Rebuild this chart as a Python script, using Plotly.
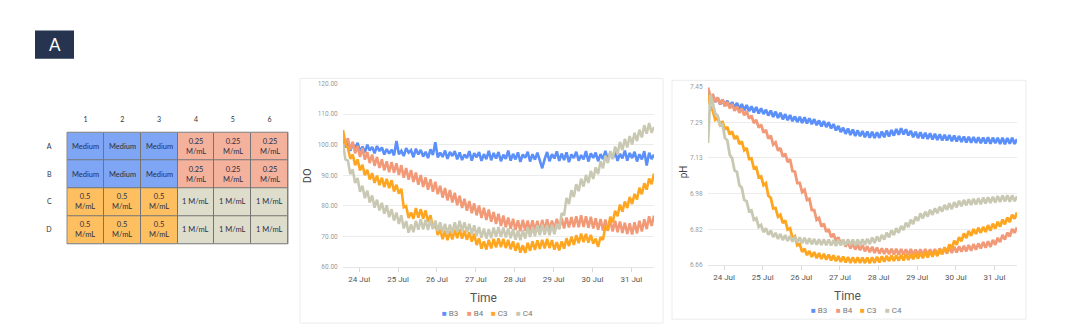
import pandas as pd
import plotly.graph_objects as go

W, H = 1080, 331

# ---------------- plate layout ----------------
plate_cols = ["1", "2", "3", "4", "5", "6"]
plate_rows = ["A", "B", "C", "D"]
plate_groups = [
    [0, 0, 0, 1, 1, 1],
    [0, 0, 0, 1, 1, 1],
    [2, 2, 2, 3, 3, 3],
    [2, 2, 2, 3, 3, 3],
]
group_labels = ["Medium", "0.25<br>M/mL", "0.5<br>M/mL", "1 M/mL"]
group_colors = ["#7ea6f4", "#f4b29c", "#fdbf5f", "#dedccb"]

# ---------------- sensor logs (one reading every 90 min) ----------------
times = pd.date_range("2023-07-23 14:00", "2023-07-31 14:00", freq="90min")
series_names = ["B3", "B4", "C3", "C4"]
series_colors = ["#5b8ff9", "#f29a78", "#ffa621", "#c9c9b3"]

do_b3 = [
    101.5, 99.2, 100.3, 98.0, 100.2, 98.9, 100.6, 97.8, 99.4, 97.5, 100.0, 98.1, 99.3, 97.2, 99.6, 97.9,
    99.1, 96.8, 98.6, 97.1, 98.4, 96.5, 101.2, 96.9, 98.0, 96.3, 98.9, 97.4, 98.2, 95.9, 98.7, 96.8,
    98.3, 96.1, 97.7, 95.6, 98.5, 96.6, 100.8, 95.8, 97.4, 96.0, 98.1, 95.4, 97.6, 96.3, 97.9, 95.2,
    97.5, 95.0, 96.8, 95.6, 97.9, 94.8, 97.2, 95.9, 97.6, 94.7, 96.9, 95.3, 98.0, 94.9, 97.3, 95.5,
    97.6, 94.6, 96.7, 95.4, 98.1, 94.8, 97.0, 95.2, 97.5, 94.4, 96.8, 95.7, 97.7, 94.5, 96.9, 95.1,
    97.4, 94.9, 92.3, 95.3, 97.6, 94.6, 96.9, 95.5, 97.8, 94.7, 97.1, 95.0, 97.5, 94.3, 96.8, 95.6,
    97.7, 94.8, 96.6, 95.2, 97.9, 94.5, 97.2, 95.7, 97.4, 94.6, 96.9, 95.3, 98.0, 94.9, 97.3, 95.4,
    97.8, 94.7, 97.0, 95.5, 98.1, 94.8, 97.3, 95.6, 97.7, 94.5, 96.9, 95.2, 97.9, 93.2, 97.4, 95.3,
    96.8,
]
do_b4 = [
    102.0, 100.0, 102.1, 98.4, 101.0, 97.2, 99.6, 96.0, 98.9, 95.1, 97.6, 94.0, 96.8, 93.1, 96.0, 92.4,
    95.2, 91.6, 94.6, 91.0, 94.3, 90.8, 93.9, 90.1, 93.3, 89.2, 92.4, 88.6, 91.7, 87.8, 90.9, 86.9,
    90.1, 86.2, 89.3, 85.3, 88.7, 84.6, 87.9, 83.8, 86.6, 82.7, 85.8, 81.8, 85.2, 81.1, 84.3, 80.2,
    83.3, 79.3, 82.3, 78.4, 81.6, 77.6, 80.8, 76.9, 80.1, 76.0, 79.4, 75.4, 78.8, 74.8, 78.0, 74.1,
    77.4, 73.4, 76.8, 73.0, 76.2, 72.5, 75.8, 72.1, 75.3, 71.7, 75.4, 71.9, 75.2, 71.6, 75.3, 71.8,
    75.1, 71.5, 75.4, 71.9, 75.6, 72.0, 75.2, 72.3, 75.8, 72.4, 76.0, 72.6, 76.2, 72.9, 76.3, 73.0,
    76.6, 73.0, 76.9, 73.1, 76.6, 72.8, 76.4, 72.6, 75.9, 72.2, 75.7, 71.9, 75.5, 71.8, 75.3, 71.6,
    75.1, 71.4, 74.9, 71.1, 74.5, 70.8, 74.3, 70.6, 74.6, 71.0, 75.1, 71.6, 75.6, 72.4, 76.6, 73.4,
    76.8,
]
do_c3 = [
    104.8, 100.2, 98.9, 95.4, 96.8, 93.3, 95.2, 91.6, 93.4, 90.0, 91.8, 88.6, 90.7, 87.5, 89.9, 86.8,
    89.2, 86.1, 88.8, 85.8, 88.4, 84.7, 86.9, 84.0, 85.6, 79.5, 79.9, 76.0, 77.8, 75.8, 79.3, 76.1,
    78.9, 75.8, 78.5, 74.8, 76.9, 72.7, 74.4, 70.5, 72.4, 69.1, 71.8, 68.8, 71.7, 69.0, 72.2, 69.4,
    72.4, 69.3, 71.9, 68.9, 71.4, 68.3, 70.9, 67.2, 69.4, 66.0, 68.4, 65.7, 68.9, 66.1, 69.2, 66.4,
    69.4, 66.5, 69.2, 66.2, 68.9, 65.8, 68.4, 65.3, 67.9, 64.7, 67.1, 64.6, 67.9, 65.3, 68.4, 65.6,
    68.7, 65.9, 68.9, 66.1, 69.2, 66.2, 68.8, 65.7, 68.1, 65.4, 68.4, 66.0, 69.4, 66.8, 69.9, 67.2,
    70.4, 67.8, 70.9, 68.1, 70.8, 68.0, 70.5, 67.6, 69.3, 66.6, 69.8, 68.9, 73.4, 72.1, 76.4, 74.6,
    78.4, 76.6, 80.4, 78.1, 81.4, 79.3, 82.9, 80.6, 83.9, 82.1, 85.9, 83.8, 87.4, 85.3, 88.9, 87.1,
    90.6,
]
do_c4 = [
    100.4, 95.2, 94.8, 90.4, 91.9, 87.5, 89.1, 84.6, 86.6, 82.5, 85.0, 81.1, 83.4, 79.4, 82.0, 78.5,
    81.0, 77.4, 80.2, 76.3, 78.9, 75.2, 77.8, 74.1, 76.9, 72.6, 75.0, 71.2, 73.9, 71.4, 75.1, 72.2,
    75.6, 72.3, 75.4, 72.1, 75.5, 72.4, 75.2, 71.8, 74.6, 71.2, 74.1, 70.8, 73.9, 71.0, 74.6, 71.5,
    75.1, 71.7, 74.6, 71.3, 74.1, 70.7, 73.6, 70.2, 73.1, 69.6, 72.6, 69.3, 72.4, 69.4, 72.9, 69.8,
    73.1, 69.8, 72.9, 69.7, 72.6, 69.4, 72.5, 68.9, 71.9, 68.8, 72.1, 69.3, 72.9, 69.8, 73.1, 70.1,
    73.6, 70.4, 73.9, 70.6, 73.7, 70.4, 73.8, 70.7, 74.1, 72.4, 77.6, 76.9, 82.6, 80.6, 85.1, 82.9,
    87.1, 84.8, 88.9, 86.3, 90.1, 87.5, 91.4, 88.8, 92.6, 90.4, 94.6, 92.3, 96.4, 94.0, 97.9, 95.4,
    99.4, 96.9, 100.9, 98.2, 101.9, 99.1, 102.8, 100.1, 103.9, 101.2, 104.9, 102.4, 106.4, 103.6, 107.1, 103.9,
    105.8,
]

ph_b3 = [
    7.432, 7.400, 7.413, 7.382, 7.401, 7.372, 7.392, 7.366, 7.388, 7.360, 7.382, 7.354, 7.378, 7.349, 7.373, 7.345,
    7.368, 7.342, 7.363, 7.336, 7.360, 7.331, 7.354, 7.329, 7.348, 7.322, 7.344, 7.316, 7.339, 7.311, 7.334, 7.305,
    7.328, 7.301, 7.324, 7.297, 7.318, 7.293, 7.316, 7.289, 7.314, 7.287, 7.310, 7.284, 7.306, 7.279, 7.300, 7.274,
    7.297, 7.271, 7.292, 7.265, 7.284, 7.256, 7.276, 7.249, 7.268, 7.241, 7.264, 7.236, 7.260, 7.231, 7.256, 7.230,
    7.253, 7.226, 7.251, 7.224, 7.250, 7.222, 7.248, 7.223, 7.251, 7.226, 7.255, 7.229, 7.258, 7.233, 7.262, 7.237,
    7.266, 7.238, 7.261, 7.234, 7.254, 7.226, 7.250, 7.222, 7.248, 7.220, 7.246, 7.218, 7.243, 7.216, 7.241, 7.214,
    7.239, 7.212, 7.237, 7.211, 7.236, 7.208, 7.233, 7.207, 7.231, 7.205, 7.229, 7.203, 7.228, 7.202, 7.227, 7.201,
    7.226, 7.199, 7.225, 7.198, 7.226, 7.197, 7.224, 7.199, 7.223, 7.196, 7.224, 7.195, 7.222, 7.197, 7.223, 7.196,
    7.218,
]
ph_b4 = [
    7.446, 7.408, 7.413, 7.383, 7.402, 7.373, 7.393, 7.363, 7.382, 7.354, 7.373, 7.343, 7.362, 7.334, 7.353, 7.323,
    7.343, 7.308, 7.322, 7.288, 7.303, 7.268, 7.282, 7.246, 7.258, 7.220, 7.233, 7.193, 7.203, 7.166, 7.178, 7.140,
    7.153, 7.116, 7.128, 7.076, 7.073, 7.023, 7.023, 6.983, 6.993, 6.948, 6.953, 6.903, 6.903, 6.860, 6.868, 6.830,
    6.843, 6.806, 6.818, 6.783, 6.798, 6.766, 6.783, 6.752, 6.771, 6.741, 6.761, 6.733, 6.755, 6.728, 6.751, 6.725,
    6.748, 6.720, 6.743, 6.716, 6.740, 6.713, 6.737, 6.710, 6.733, 6.708, 6.733, 6.707, 6.731, 6.706, 6.731, 6.705,
    6.730, 6.705, 6.729, 6.704, 6.730, 6.703, 6.728, 6.704, 6.729, 6.703, 6.730, 6.704, 6.729, 6.705, 6.730, 6.706,
    6.733, 6.708, 6.735, 6.710, 6.737, 6.713, 6.740, 6.715, 6.742, 6.718, 6.745, 6.720, 6.748, 6.723, 6.752, 6.727,
    6.755, 6.733, 6.761, 6.736, 6.765, 6.740, 6.771, 6.749, 6.780, 6.761, 6.793, 6.772, 6.803, 6.786, 6.819, 6.802,
    6.826,
]
ph_c3 = [
    7.415, 7.360, 7.343, 7.303, 7.312, 7.280, 7.297, 7.260, 7.272, 7.238, 7.252, 7.218, 7.232, 7.195, 7.207, 7.168,
    7.178, 7.130, 7.132, 7.088, 7.092, 7.048, 7.052, 7.013, 7.022, 6.966, 6.957, 6.910, 6.912, 6.873, 6.882, 6.845,
    6.857, 6.816, 6.822, 6.780, 6.787, 6.746, 6.752, 6.718, 6.732, 6.703, 6.722, 6.695, 6.717, 6.690, 6.712, 6.686,
    6.709, 6.683, 6.706, 6.680, 6.702, 6.676, 6.699, 6.673, 6.697, 6.671, 6.695, 6.669, 6.694, 6.668, 6.694, 6.669,
    6.692, 6.668, 6.693, 6.667, 6.694, 6.669, 6.696, 6.671, 6.698, 6.674, 6.700, 6.676, 6.702, 6.677, 6.703, 6.679,
    6.705, 6.680, 6.707, 6.682, 6.709, 6.685, 6.712, 6.688, 6.714, 6.690, 6.717, 6.693, 6.720, 6.696, 6.723, 6.699,
    6.728, 6.707, 6.738, 6.717, 6.751, 6.733, 6.767, 6.749, 6.783, 6.765, 6.799, 6.779, 6.810, 6.789, 6.819, 6.797,
    6.825, 6.802, 6.828, 6.806, 6.836, 6.812, 6.843, 6.821, 6.851, 6.829, 6.861, 6.840, 6.870, 6.850, 6.883, 6.864,
    6.892,
]
ph_c4 = [
    7.200, 7.415, 7.375, 7.330, 7.322, 7.278, 7.283, 7.223, 7.212, 7.148, 7.132, 7.078, 7.072, 7.013, 7.002, 6.948,
    6.942, 6.898, 6.902, 6.860, 6.867, 6.828, 6.837, 6.805, 6.822, 6.793, 6.812, 6.783, 6.802, 6.775, 6.797, 6.770,
    6.792, 6.766, 6.789, 6.763, 6.785, 6.759, 6.782, 6.756, 6.780, 6.753, 6.778, 6.751, 6.775, 6.749, 6.774, 6.748,
    6.773, 6.747, 6.772, 6.746, 6.770, 6.744, 6.771, 6.746, 6.772, 6.747, 6.773, 6.748, 6.772, 6.746, 6.772, 6.747,
    6.773, 6.749, 6.776, 6.752, 6.781, 6.757, 6.786, 6.764, 6.793, 6.772, 6.803, 6.782, 6.813, 6.792, 6.823, 6.802,
    6.833, 6.814, 6.847, 6.828, 6.860, 6.841, 6.874, 6.855, 6.888, 6.866, 6.896, 6.874, 6.904, 6.882, 6.911, 6.889,
    6.918, 6.896, 6.926, 6.904, 6.933, 6.907, 6.938, 6.915, 6.944, 6.920, 6.948, 6.924, 6.951, 6.926, 6.953, 6.928,
    6.955, 6.929, 6.958, 6.932, 6.960, 6.934, 6.962, 6.937, 6.965, 6.939, 6.967, 6.941, 6.969, 6.940, 6.968, 6.942,
    6.964,
]

do_ticks = [60, 70, 80, 90, 100, 110, 120]
ph_ticks = [6.66, 6.818, 6.976, 7.134, 7.292, 7.45]

do_series = [do_b3, do_b4, do_c3, do_c4]
ph_series = [ph_b3, ph_b4, ph_c3, ph_c4]


def fx(px):
    return px / W


def fy(py):
    return 1 - py / H


fig = go.Figure()

# plate map as a categorical heatmap
fig.add_trace(go.Heatmap(
    x=plate_cols, y=plate_rows, z=plate_groups,
    zmin=0, zmax=3, showscale=False, xgap=1, ygap=1, hoverinfo="skip",
    colorscale=[[0, group_colors[0]], [0.25, group_colors[0]],
                [0.25, group_colors[1]], [0.5, group_colors[1]],
                [0.5, group_colors[2]], [0.75, group_colors[2]],
                [0.75, group_colors[3]], [1, group_colors[3]]],
    xaxis="x3", yaxis="y3",
))

for name, color, vals in zip(series_names, series_colors, do_series):
    fig.add_trace(go.Scatter(x=times, y=vals, mode="lines", name=name,
                             line=dict(color=color, width=2.6),
                             xaxis="x", yaxis="y", showlegend=False))
for name, color, vals in zip(series_names, series_colors, ph_series):
    fig.add_trace(go.Scatter(x=times, y=vals, mode="lines", name=name,
                             line=dict(color=color, width=2.8),
                             xaxis="x2", yaxis="y2", showlegend=False))

time_range = ["2023-07-23 14:00", "2023-07-31 14:00"]
xcommon = dict(
    type="date", range=time_range, tickformat="%d %b", tick0="2023-07-24",
    dtick=86400000, ticks="outside", ticklen=4, tickcolor="#d9d9d9",
    showgrid=False, showline=True, linecolor="#e6e6e6", linewidth=1,
    tickfont=dict(family="Roboto", size=8, color="#555555"),
)
ycommon = dict(
    showgrid=True, gridcolor="#ececec", gridwidth=1, zeroline=False,
    ticks="outside", ticklen=3, tickcolor="rgba(0,0,0,0)",
    tickfont=dict(family="Roboto", size=6.5, color="#9a9a9a"),
)

fig.update_layout(
    width=W, height=H, margin=dict(l=0, r=0, t=0, b=0),
    paper_bgcolor="white", plot_bgcolor="white", showlegend=False,
    xaxis=dict(domain=[fx(343), fx(654)], anchor="y", **xcommon),
    yaxis=dict(domain=[fy(270), fy(82)], anchor="x", range=[59.9, 120.1],
               tickvals=do_ticks, ticktext=[f"{v:.2f}" for v in do_ticks],
               **ycommon),
    xaxis2=dict(domain=[fx(708), fx(1017)], anchor="y2", **xcommon),
    yaxis2=dict(domain=[fy(268), fy(85)], anchor="x2", range=[6.658, 7.452],
                tickvals=ph_ticks, ticktext=[f"{v:.2f}" for v in ph_ticks],
                **ycommon),
    xaxis3=dict(domain=[fx(67), fx(288)], anchor="y3", side="top",
                type="category", showgrid=False, zeroline=False,
                range=[-0.5, len(plate_cols) - 0.5],
                ticks="outside", ticklen=6, tickcolor="rgba(0,0,0,0)",
                tickfont=dict(family="Lato", size=7, color="#333333")),
    yaxis3=dict(domain=[fy(246), fy(132)], anchor="x3", type="category",
                range=[len(plate_rows) - 0.5, -0.5],
                showgrid=False, zeroline=False,
                ticks="outside", ticklen=13, tickcolor="rgba(0,0,0,0)",
                tickfont=dict(family="Lato", size=7, color="#333333")),
)

shapes = [
    # chart panels
    dict(type="rect", xref="paper", yref="paper", x0=fx(300), x1=fx(663),
         y0=fy(327), y1=fy(77), line=dict(color="#ececec", width=1)),
    dict(type="rect", xref="paper", yref="paper", x0=fx(672), x1=fx(1026),
         y0=fy(323), y1=fy(79), line=dict(color="#ececec", width=1)),
    # panel letter box
    dict(type="rect", xref="paper", yref="paper", x0=fx(35), x1=fx(74),
         y0=fy(57), y1=fy(28), fillcolor="#27344f", line=dict(width=0),
         layer="below"),
    # plate grid lines (show through the heatmap gaps)
    dict(type="rect", xref="paper", yref="paper", x0=fx(67), x1=fx(288),
         y0=fy(246), y1=fy(132), fillcolor="#747474", line=dict(width=0),
         layer="below"),
    dict(type="rect", xref="paper", yref="paper", x0=fx(67), x1=fx(288),
         y0=fy(246), y1=fy(132), line=dict(color="#8a8a8a", width=1)),
]

centered = dict(showarrow=False, xanchor="center", yanchor="middle")
annotations = [
    dict(text="A", xref="paper", yref="paper", x=fx(54.5), y=fy(42.5),
         font=dict(family="Lato", size=17, color="white"), **centered),
    dict(text="DO", xref="paper", yref="paper", x=fx(307), y=fy(177),
         textangle=-90, font=dict(family="Roboto", size=11, color="#444444"),
         **centered),
    dict(text="pH", xref="paper", yref="paper", x=fx(683), y=fy(173),
         textangle=-90, font=dict(family="Roboto", size=10, color="#444444"),
         **centered),
    dict(text="Time", xref="paper", yref="paper", x=fx(483), y=fy(301),
         font=dict(family="Roboto", size=12, color="#555555"), **centered),
    dict(text="Time", xref="paper", yref="paper", x=fx(847), y=fy(299),
         font=dict(family="Roboto", size=12, color="#555555"), **centered),
]

# cell labels (category index positions)
for r in range(len(plate_rows)):
    for c in range(len(plate_cols)):
        annotations.append(dict(
            text=group_labels[plate_groups[r][c]], x=c, y=r,
            xref="x3", yref="y3",
            font=dict(family="Lato", size=7.5, color="#2b3047"), **centered,
        ))

# legends drawn beneath each chart
for x_start, y_leg in [(440, 317), (809, 314)]:
    for i, (name, color) in enumerate(zip(series_names, series_colors)):
        annotations.append(dict(
            text=f"<span style='color:{color}'>■</span> {name}",
            xref="paper", yref="paper", x=fx(x_start + i * 24.5), y=fy(y_leg),
            xanchor="left", yanchor="middle", showarrow=False,
            font=dict(family="Roboto", size=8, color="#777777"),
        ))

fig.update_layout(shapes=shapes, annotations=annotations)
fig.write_html("out.html")
